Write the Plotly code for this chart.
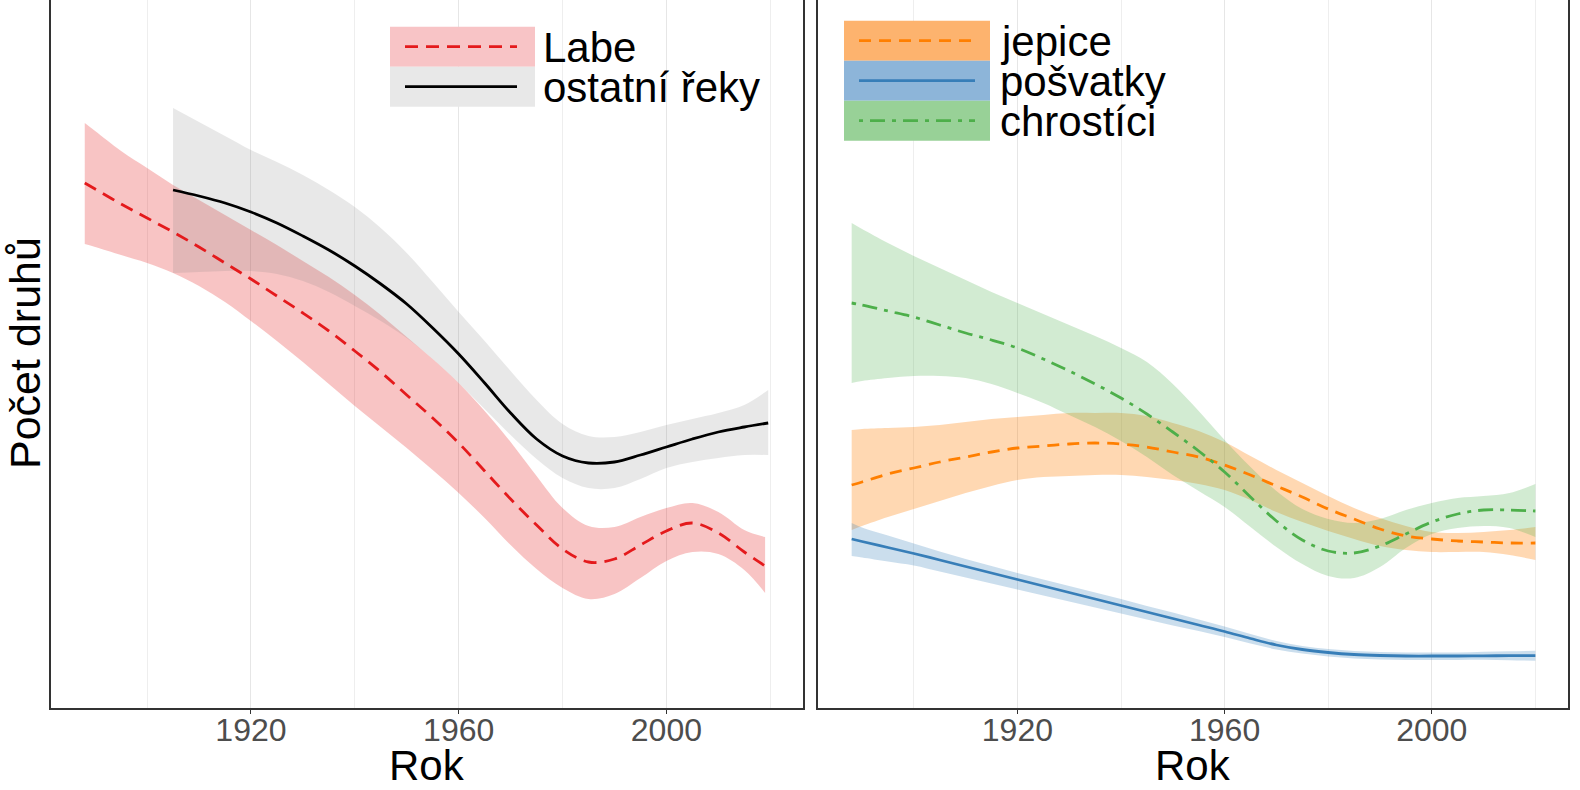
import plotly.graph_objects as go

# ---------------- data (arbitrary species-count units) ----
labe_years = [1888, 1890, 1895, 1900, 1905, 1910, 1915, 1920, 1925, 1930, 1935, 1940, 1945, 1950,
              1955, 1960, 1965, 1970, 1975, 1980, 1985, 1990, 1995, 2000, 2005, 2010, 2015, 2019]
labe_fit = [52.5, 51.9, 50.4, 49.0, 47.6, 46.1, 44.5, 42.9, 41.2, 39.5, 37.7, 35.7, 33.6, 31.3,
            29.0, 26.5, 23.7, 20.9, 18.3, 15.9, 14.6, 14.9, 16.3, 17.7, 18.5, 17.5, 15.6, 14.2]
labe_hi = [58.5, 57.7, 55.7, 54.0, 52.3, 50.8, 49.3, 47.8, 46.3, 44.7, 43.1, 41.3, 39.3, 37.1,
           34.9, 32.5, 29.7, 26.6, 23.2, 20.0, 18.2, 18.1, 19.1, 20.0, 20.5, 19.6, 17.8, 17.1]
labe_lo = [46.4, 46.1, 45.3, 44.5, 43.5, 42.2, 40.6, 38.7, 36.7, 34.6, 32.4, 30.2, 28.1, 26.0,
           23.8, 21.5, 19.0, 16.3, 13.9, 12.0, 10.9, 11.4, 13.0, 14.7, 15.6, 15.4, 13.8, 11.5]

ostatni_years = [1905, 1910, 1915, 1920, 1925, 1930, 1935, 1940, 1945, 1950, 1955, 1960,
                 1965, 1970, 1975, 1980, 1985, 1990, 1995, 2000, 2005, 2010, 2015, 2019.6]
ostatni_fit = [51.8, 51.2, 50.5, 49.6, 48.5, 47.2, 45.8, 44.2, 42.4, 40.4, 38.0, 35.4,
               32.5, 29.5, 26.9, 25.2, 24.5, 24.6, 25.3, 26.1, 26.9, 27.6, 28.1, 28.5]
ostatni_hi = [60.0, 58.6, 57.2, 55.8, 54.6, 53.3, 51.8, 50.1, 48.0, 45.5, 42.6, 39.6,
              36.7, 33.7, 30.8, 28.4, 27.2, 27.1, 27.6, 28.3, 28.9, 29.5, 30.3, 31.8]
ostatni_lo = [43.5, 43.6, 43.7, 43.7, 43.4, 42.7, 41.6, 40.2, 38.7, 37.0, 34.9, 32.5,
              29.9, 27.3, 24.9, 23.0, 22.0, 22.0, 22.9, 24.0, 24.6, 25.0, 25.3, 25.3]

order_years = [1888, 1890, 1895, 1900, 1905, 1910, 1915, 1920, 1925, 1930, 1935, 1940, 1945, 1950,
               1955, 1960, 1965, 1970, 1975, 1980, 1985, 1990, 1995, 2000, 2005, 2010, 2015, 2020]
jepice_fit = [22.3, 22.6, 23.4, 24.0, 24.6, 25.1, 25.6, 26.0, 26.2, 26.4, 26.5, 26.4, 26.1, 25.6,
              25.1, 24.3, 23.3, 22.2, 21.1, 19.9, 18.9, 17.9, 17.2, 16.9, 16.7, 16.6, 16.5, 16.5]
jepice_hi = [27.8, 27.9, 28.0, 28.1, 28.3, 28.6, 28.9, 29.1, 29.3, 29.5, 29.5, 29.5, 29.2, 28.5,
             27.7, 26.6, 25.2, 23.8, 22.5, 21.2, 20.0, 19.0, 18.2, 17.6, 17.5, 17.6, 17.8, 18.1]
jepice_lo = [17.8, 18.2, 19.1, 19.9, 20.7, 21.5, 22.2, 22.8, 23.1, 23.2, 23.3, 23.3, 23.1, 22.8,
             22.4, 21.8, 20.8, 19.6, 18.6, 17.7, 16.9, 16.2, 15.8, 15.6, 15.6, 15.6, 15.3, 14.8]
posvatky_fit = [16.9, 16.65, 16.05, 15.45, 14.8, 14.15, 13.5, 12.85, 12.2, 11.55, 10.9, 10.25,
                9.6, 8.95, 8.3, 7.65, 6.95, 6.3, 5.85, 5.55, 5.35, 5.25, 5.2, 5.2, 5.2, 5.22,
                5.23, 5.23]
posvatky_hi = [18.5, 18.05, 17.25, 16.45, 15.65, 14.9, 14.2, 13.5, 12.85, 12.2, 11.55, 10.9,
               10.2, 9.55, 8.85, 8.15, 7.4, 6.7, 6.2, 5.9, 5.7, 5.6, 5.55, 5.55, 5.55, 5.62,
               5.68, 5.73]
posvatky_lo = [15.2, 15.05, 14.65, 14.25, 13.65, 13.05, 12.45, 11.85, 11.25, 10.65, 10.05, 9.45,
               8.85, 8.25, 7.7, 7.1, 6.45, 5.85, 5.45, 5.15, 4.95, 4.85, 4.8, 4.8, 4.8, 4.82,
               4.78, 4.73]
chrostici_fit = [40.5, 40.3, 39.7, 39.1, 38.3, 37.5, 36.8, 36.0, 34.9, 33.7, 32.4, 31.0, 29.4, 27.6,
                 25.7, 23.6, 21.1, 18.7, 16.8, 15.7, 15.5, 16.2, 17.4, 18.6, 19.4, 19.8, 19.8, 19.7]
chrostici_hi = [48.5, 47.9, 46.5, 45.2, 44.0, 42.8, 41.6, 40.5, 39.4, 38.3, 37.2, 36.0, 34.6, 32.4,
                29.7, 26.8, 24.1, 21.7, 19.9, 18.9, 18.5, 18.9, 19.8, 20.5, 21.0, 21.2, 21.5, 22.4]
chrostici_lo = [32.5, 32.7, 33.0, 33.2, 33.2, 33.0, 32.4, 31.5, 30.5, 29.3, 28.1, 26.7, 25.1, 23.3,
                21.7, 20.1, 18.1, 16.1, 14.4, 13.2, 13.0, 14.1, 16.0, 17.4, 18.0, 18.2, 18.0, 17.1]

x_tick_vals = [1920, 1960, 2000]
x_tick_text = ["1920", "1960", "2000"]
y_title = "Počet druhů"
x_title = "Rok"

FONT = "Liberation Sans, Arial, Helvetica, sans-serif"
W, H = 1580, 790
PLOT_BOTTOM = 708  # pixel row of the x axis line

fig = go.Figure()


def band(x, lo, hi, fill, xa, ya):
    fig.add_trace(go.Scatter(x=x, y=lo, mode="lines", line=dict(width=0, shape="spline", smoothing=1),
                             hoverinfo="skip", showlegend=False, xaxis=xa, yaxis=ya))
    fig.add_trace(go.Scatter(x=x, y=hi, mode="lines", line=dict(width=0, shape="spline", smoothing=1),
                             fill="tonexty", fillcolor=fill, hoverinfo="skip", showlegend=False,
                             xaxis=xa, yaxis=ya))


def line(x, y, color, dash, name, xa, ya):
    fig.add_trace(go.Scatter(x=x, y=y, mode="lines", name=name,
                             line=dict(color=color, width=2.8, dash=dash, shape="spline", smoothing=1),
                             showlegend=False, xaxis=xa, yaxis=ya))


RED, BLACK = "#E41A1C", "#000000"
ORANGE, BLUE, GREEN = "#FF7F00", "#377EB8", "#4DAF4A"
PINK_F = "rgba(228,26,28,0.26)"
GRAY_F = "rgba(128,128,128,0.18)"
ORANGE_F = "rgba(255,127,0,0.30)"
BLUE_F = "rgba(55,126,184,0.26)"
GREEN_F = "rgba(77,175,74,0.25)"

DASH_RED = "13px,8px"
DASH_OR = "12px,8px"
DASH_DOTDASH = "4px,7px,15px,7px"

# left panel
band(labe_years, labe_lo, labe_hi, PINK_F, "x", "y")
band(ostatni_years, ostatni_lo, ostatni_hi, GRAY_F, "x", "y")
line(labe_years, labe_fit, RED, DASH_RED, "Labe", "x", "y")
line(ostatni_years, ostatni_fit, BLACK, "solid", "ostatní řeky", "x", "y")

# right panel
band(order_years, jepice_lo, jepice_hi, ORANGE_F, "x2", "y2")
band(order_years, posvatky_lo, posvatky_hi, BLUE_F, "x2", "y2")
band(order_years, chrostici_lo, chrostici_hi, GREEN_F, "x2", "y2")
line(order_years, jepice_fit, ORANGE, DASH_OR, "jepice", "x2", "y2")
line(order_years, posvatky_fit, BLUE, "solid", "pošvatky", "x2", "y2")
line(order_years, chrostici_fit, GREEN, DASH_DOTDASH, "chrostíci", "x2", "y2")

xaxis_common = dict(
    range=[1881.5, 2026.3], tickmode="array", tickvals=x_tick_vals, ticktext=x_tick_text,
    showgrid=True, gridcolor="#E6E6E6", gridwidth=1,
    minor=dict(tick0=1900, dtick=20, showgrid=True, gridcolor="#EEEEEE", gridwidth=1, ticks=""),
    showline=True, linecolor="#333333", linewidth=1.5, mirror=False,
    ticks="outside", ticklen=4, tickwidth=1.2, tickcolor="#333333", ticklabelstandoff=-11,
    tickfont=dict(family=FONT, size=32, color="#4D4D4D"), zeroline=False, fixedrange=True,
)
yaxis_common = dict(
    range=[0, 70.8], showgrid=False, zeroline=False, showticklabels=False, ticks="",
    showline=True, linecolor="#333333", linewidth=1.5, mirror=True, fixedrange=True,
)

fig.update_layout(
    width=W, height=H,
    margin=dict(l=0, r=0, t=0, b=H - PLOT_BOTTOM),
    paper_bgcolor="white", plot_bgcolor="white",
    showlegend=False,
    font=dict(family=FONT, color="#000000"),
    xaxis=dict(domain=[51 / W, 803 / W], anchor="y", **xaxis_common),
    yaxis=dict(domain=[0, 1], anchor="x", **yaxis_common),
    xaxis2=dict(domain=[818 / W, 1568 / W], anchor="y2", **xaxis_common),
    yaxis2=dict(domain=[0, 1], anchor="x2", **yaxis_common),
)


def px(x):
    return x / W


def py(y):
    return 1 - y / PLOT_BOTTOM


shapes = []
annotations = []


def legend(x0, x1, lx0, lx1, tx, y0, rowh, items):
    for i, (fillc, color, dash, label) in enumerate(items):
        top = y0 + i * rowh
        shapes.append(dict(type="rect", xref="paper", yref="paper", x0=px(x0), x1=px(x1),
                           y0=py(top + rowh), y1=py(top), fillcolor=fillc, line=dict(width=0),
                           layer="above"))
        shapes.append(dict(type="line", xref="paper", yref="paper", x0=px(lx0), x1=px(lx1),
                           y0=py(top + rowh / 2), y1=py(top + rowh / 2),
                           line=dict(color=color, width=2.8, dash=dash), layer="above"))
        annotations.append(dict(text=label, xref="paper", yref="paper", x=px(tx),
                                y=py(top + rowh / 2 + 1), xanchor="left", yanchor="middle",
                                showarrow=False, font=dict(family=FONT, size=42, color="#000000")))


legend(390, 535, 405, 517, 541, 26.7, 40,
       [("#F8C4C6", RED, DASH_RED, "Labe"), ("#E8E8E8", BLACK, "solid", "ostatní řeky")])
legend(844, 990, 859, 975, 998, 20.7, 40,
       [("#FDB36E", ORANGE, DASH_OR, "jepice"), ("#8DB5D9", BLUE, "solid", "pošvatky"),
        ("#98D197", GREEN, DASH_DOTDASH, "chrostíci")])

annotations.append(dict(text=y_title, xref="paper", yref="paper", x=px(25), y=py(353),
                        xanchor="center", yanchor="middle", textangle=-90, showarrow=False,
                        font=dict(family=FONT, size=43, color="#000000")))
for cx in [427, 1193]:
    annotations.append(dict(text=x_title, xref="paper", yref="paper", x=px(cx), y=py(765),
                            xanchor="center", yanchor="middle", showarrow=False,
                            font=dict(family=FONT, size=42, color="#000000")))

fig.update_layout(shapes=shapes, annotations=annotations)
fig.write_html("out.html")
